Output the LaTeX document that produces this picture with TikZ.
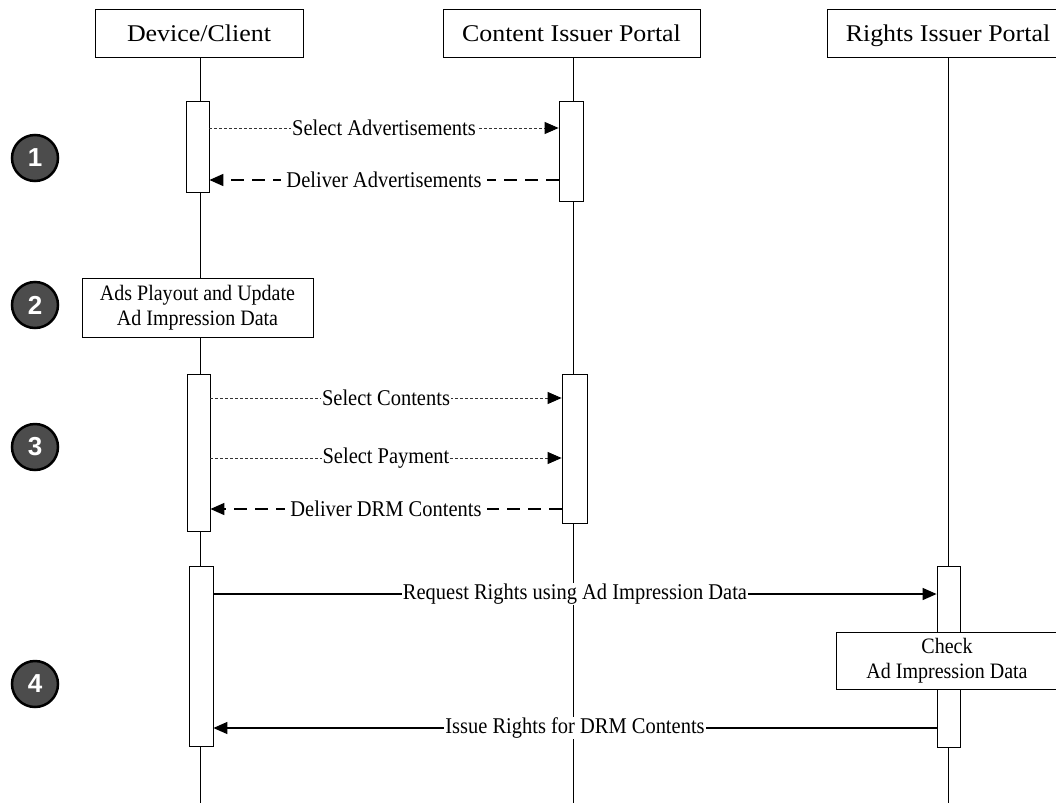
\documentclass[tikz,border=0pt]{standalone}
\usepackage{fontspec}
\setmainfont{Liberation Serif}
\newfontfamily\numfont{Liberation Sans}
\newfontfamily\headfont[FakeStretch=1.08]{Liberation Serif}
\newfontfamily\msgfont[FakeStretch=0.91]{Liberation Serif}
\usetikzlibrary{arrows.meta}
\tikzset{
  head/.style={draw, line width=1pt, fill=white, inner sep=0pt, text height=19pt, text depth=3pt, font=\headfont\fontsize{24}{28}\selectfont},
  actbar/.style={draw, line width=0.8pt, fill=white, inner sep=0pt, minimum width=23pt},
  notebox/.style={draw, line width=0.8pt, fill=white, inner sep=0pt, align=center, font=\msgfont\fontsize{22}{25}\selectfont},
  life/.style={line width=1pt},
  tip/.style={-{Triangle[length=14pt,width=12pt,color=black,fill=black]}},
  callmsg/.style={line width=0.9pt, black!80, dash pattern=on 3pt off 2pt, tip},
  retmsg/.style={line width=1.6pt, dash pattern=on 13pt off 8pt, tip},
  solidmsg/.style={line width=1.4pt, tip},
  lbl/.style={fill=white, inner sep=1pt, text=black, font=\msgfont\fontsize{22.5}{25}\selectfont},
  stepnum/.style={circle, draw=black, line width=2.5pt, fill=black!70, minimum size=46pt, inner sep=0pt, text=white, font=\numfont\bfseries\fontsize{26}{28}\selectfont}
}
\begin{document}
\begin{tikzpicture}[x=1pt,y=-1pt]
\useasboundingbox (0,0) rectangle (1056,803);
% headers
\node[head, minimum width=208pt, minimum height=48pt] (dev) at (199,33) {Device/Client};
\node[head, minimum width=257pt, minimum height=48pt] (cip) at (571.5,33) {Content Issuer Portal};
\node[head, minimum width=242pt, minimum height=48pt] (rip) at (948,33) {Rights Issuer Portal};
% lifeline ends
\coordinate (devend) at (200,803);
\coordinate (cipend) at (573,803);
\coordinate (ripend) at (948,803);
\draw[life] (dev.south -| devend) -- (devend);
\draw[life] (cip.south -| cipend) -- (cipend);
\draw[life] (rip.south -| ripend) -- (ripend);
% activation bars
\node[actbar, minimum height=91pt] (d1) at (197.5,146.5) {};
\node[actbar, minimum width=24pt, minimum height=100pt] (c1) at (571,151) {};
\node[notebox, minimum width=231pt, minimum height=59pt] (ads) at (197.5,307.5) {Ads Playout and Update\\Ad Impression Data};
\node[actbar, minimum height=157pt] (d2) at (198.5,452.5) {};
\node[actbar, minimum width=25pt, minimum height=149pt] (c2) at (574.5,448.5) {};
\node[actbar, minimum width=24pt, minimum height=180pt] (d3) at (201,656) {};
\node[actbar, minimum height=181pt] (r1) at (948.5,656.5) {};
\node[notebox, minimum width=222pt, minimum height=57pt] (chk) at (947,660.5) {Check\\Ad Impression Data};
% step circles
\node[stepnum] (s1) at (35,158) {1};
\node[stepnum] (s2) at (35,305) {2};
\node[stepnum] (s3) at (35,447) {3};
\node[stepnum] (s4) at (35,684) {4};
% messages
\draw[callmsg] (d1.east |- 0,128) -- node[lbl] {Select Advertisements} (c1.west |- 0,128);
\draw[retmsg] (c1.west |- 0,180) -- node[lbl, inner xsep=5pt] {Deliver Advertisements} (d1.east |- 0,180);
\draw[callmsg] (d2.east |- 0,398) -- node[lbl] {Select Contents} (c2.west |- 0,398);
\draw[callmsg] (d2.east |- 0,458) -- node[lbl] {Select Payment} (c2.west |- 0,458);
\draw[retmsg] (c2.west |- 0,509) -- node[lbl, inner xsep=5pt] {Deliver DRM Contents} (d2.east |- 0,509);
\draw[solidmsg] (d3.east |- 0,594) -- node[lbl] {Request Rights using Ad Impression Data} (r1.west |- 0,594);
\draw[solidmsg] (r1.west |- 0,728) -- node[lbl] {Issue Rights for DRM Contents} (d3.east |- 0,728);
\end{tikzpicture}
\end{document}
